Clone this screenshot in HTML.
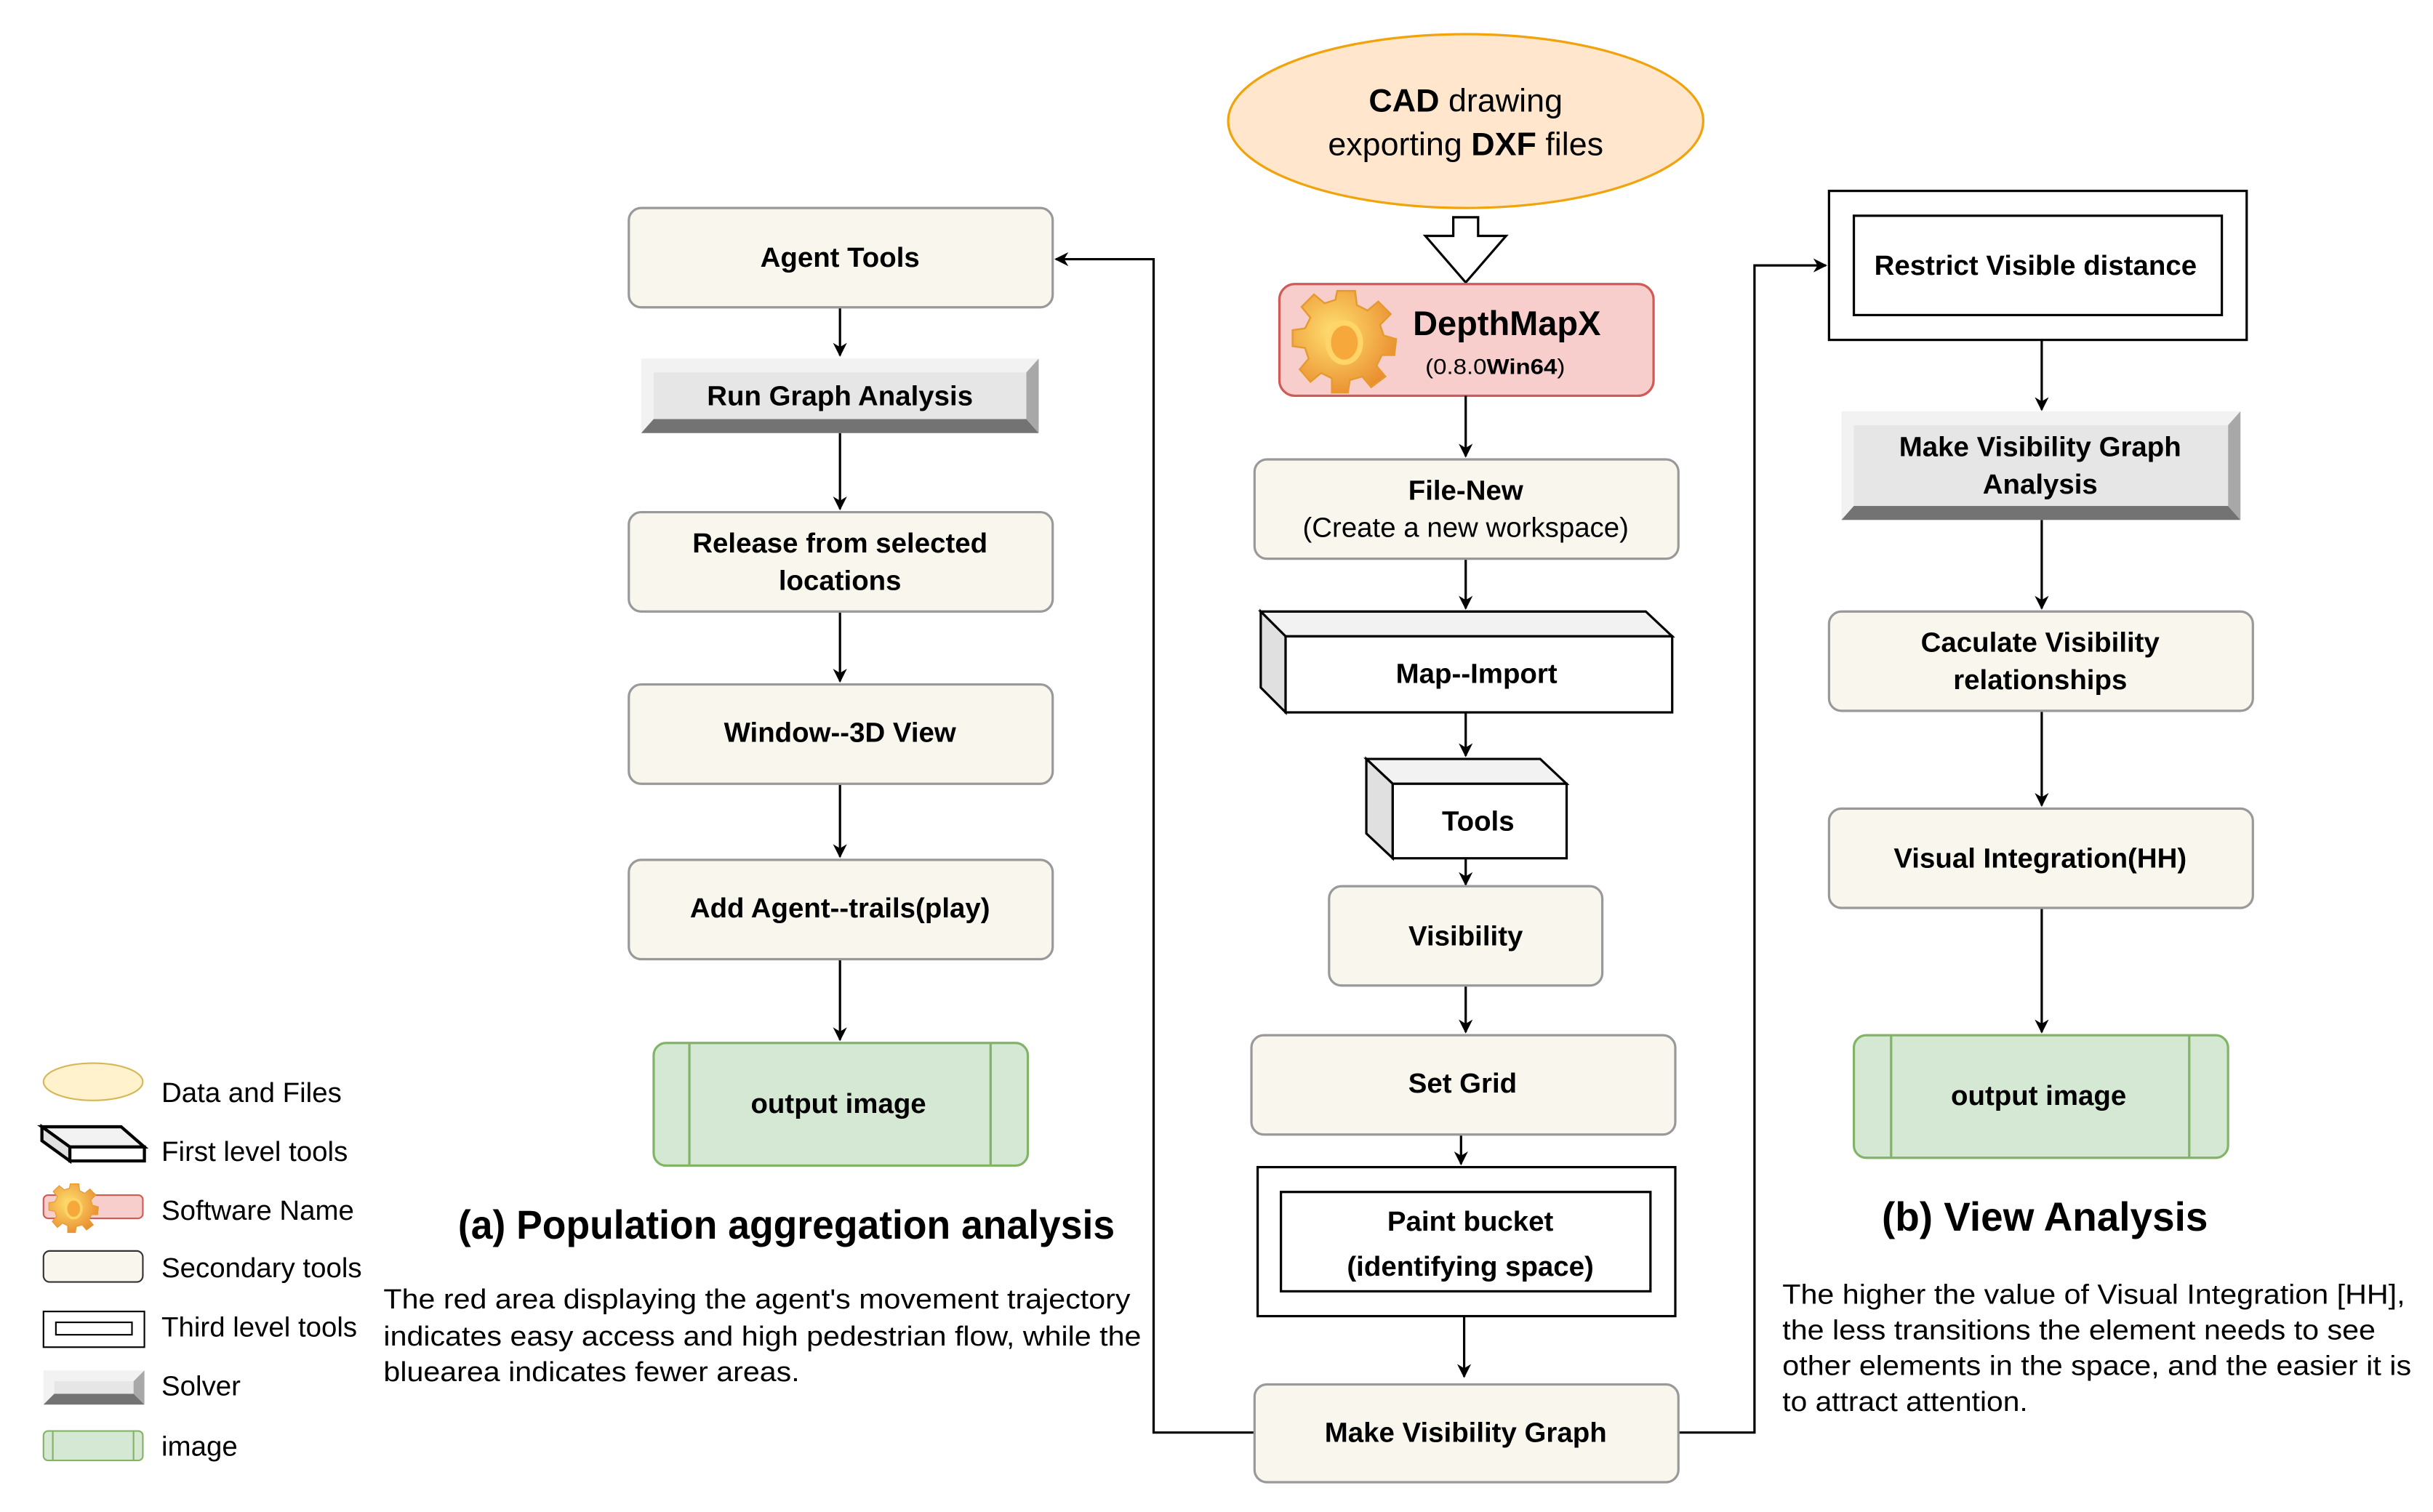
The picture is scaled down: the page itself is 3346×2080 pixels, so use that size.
<!DOCTYPE html>
<html><head><meta charset="utf-8"><style>
html,body{margin:0;padding:0;background:#fff;}
svg{display:block;}
text{font-family:"Liberation Sans",sans-serif;fill:#000;}
.b{font-weight:bold;font-size:18px;}
.n{font-size:18px;}
</style></head><body>
<svg width="3346" height="2080" viewBox="0 0 1567 974.2" preserveAspectRatio="none" xmlns="http://www.w3.org/2000/svg">
<defs>
<marker id="ar" viewBox="0 0 10 10" refX="9" refY="5" markerWidth="9" markerHeight="9" orient="auto" markerUnits="userSpaceOnUse">
<path d="M0,0 L10,5 L0,10 L3,5 z" fill="#000"/></marker>
<radialGradient id="gear" cx="0.4" cy="0.4" r="0.7"><stop offset="0" stop-color="#ffe070"/><stop offset="1" stop-color="#e8872a"/></radialGradient>
<g id="gearI">
<path d="M-5,-24 L5,-24 L6,-16 L12,-13 L18,-18 L25,-11 L19,-5 L21,1 L28,3 L27,12 L20,12 L17,18 L22,24 L14,30 L9,24 L2,26 L1,33 L-8,33 L-8,25 L-14,22 L-20,27 L-26,20 L-21,14 L-23,8 L-30,7 L-30,-2 L-23,-3 L-20,-9 L-25,-15 L-18,-22 L-12,-17 L-6,-19 Z" fill="url(#gear)" stroke="#e59a30" stroke-width="1"/>
<ellipse cx="-1" cy="5" rx="9" ry="11" fill="#f6a93a" stroke="#ffd56a" stroke-width="3"/>
</g>
</defs>

<ellipse cx="944" cy="78" rx="153" ry="56" fill="#ffe6cc" stroke="#f0a30a" stroke-width="1.5"/>
<text x="944" y="72" text-anchor="middle" font-size="21"><tspan font-weight="bold">CAD</tspan> drawing</text>
<text x="944" y="100" text-anchor="middle" font-size="21">exporting <tspan font-weight="bold">DXF</tspan> files</text>
<path d="M936,140 H952 V152 H970 L944,182 L918,152 H936 Z" fill="#fff" stroke="#000" stroke-width="1.5"/>

<rect x="824" y="183" width="241" height="72" rx="10" fill="#f8cecc" stroke="#d05a55" stroke-width="1.5"/>
<use href="#gearI" transform="translate(867,215) scale(1.15)"/>
<text x="910" y="216" font-size="22" font-weight="bold">DepthMapX</text>
<text x="918" y="241" font-size="14" textLength="90" lengthAdjust="spacingAndGlyphs">(0.8.0<tspan font-weight="bold">Win64</tspan>)</text>

<g stroke="#000" stroke-width="1.5" fill="none">
<line x1="944" y1="255" x2="944" y2="294" marker-end="url(#ar)"/>
<line x1="944" y1="360" x2="944" y2="392" marker-end="url(#ar)"/>
<line x1="944" y1="459" x2="944" y2="487" marker-end="url(#ar)"/>
<line x1="944" y1="553" x2="944" y2="570" marker-end="url(#ar)"/>
<line x1="944" y1="635" x2="944" y2="665" marker-end="url(#ar)"/>
<line x1="941" y1="731" x2="941" y2="750" marker-end="url(#ar)"/>
<line x1="943" y1="848" x2="943" y2="887" marker-end="url(#ar)"/>
<polyline points="808,923 743,923 743,167 680,167" marker-end="url(#ar)"/>
<polyline points="1081,923 1130,923 1130,171 1176,171" marker-end="url(#ar)"/>
<line x1="541" y1="198" x2="541" y2="229" marker-end="url(#ar)"/>
<line x1="541" y1="279" x2="541" y2="328" marker-end="url(#ar)"/>
<line x1="541" y1="394" x2="541" y2="439" marker-end="url(#ar)"/>
<line x1="541" y1="505" x2="541" y2="552" marker-end="url(#ar)"/>
<line x1="541" y1="618" x2="541" y2="670" marker-end="url(#ar)"/>
<line x1="1315" y1="219" x2="1315" y2="264" marker-end="url(#ar)"/>
<line x1="1315" y1="335" x2="1315" y2="392" marker-end="url(#ar)"/>
<line x1="1315" y1="458" x2="1315" y2="519" marker-end="url(#ar)"/>
<line x1="1315" y1="585" x2="1315" y2="665" marker-end="url(#ar)"/>
</g>

<g fill="#f9f7ed" stroke="#999" stroke-width="1.5">
<rect x="808" y="296" width="273" height="64" rx="8"/>
<rect x="856" y="571" width="176" height="64" rx="8"/>
<rect x="806" y="667" width="273" height="64" rx="8"/>
<rect x="808" y="892" width="273" height="63" rx="8"/>
<rect x="405" y="134" width="273" height="64" rx="8"/>
<rect x="405" y="330" width="273" height="64" rx="8"/>
<rect x="405" y="441" width="273" height="64" rx="8"/>
<rect x="405" y="554" width="273" height="64" rx="8"/>
<rect x="1178" y="394" width="273" height="64" rx="8"/>
<rect x="1178" y="521" width="273" height="64" rx="8"/>
</g>
<text x="944" y="322" text-anchor="middle" class="b">File-New</text>
<text x="944" y="346" text-anchor="middle" class="n">(Create a new workspace)</text>
<text x="944" y="609" text-anchor="middle" class="b">Visibility</text>
<text x="942" y="704" text-anchor="middle" class="b">Set Grid</text>
<text x="944" y="929" text-anchor="middle" class="b">Make Visibility Graph</text>
<text x="541" y="172" text-anchor="middle" class="b">Agent Tools</text>
<text x="541" y="356" text-anchor="middle" class="b">Release from selected</text>
<text x="541" y="380" text-anchor="middle" class="b">locations</text>
<text x="541" y="478" text-anchor="middle" class="b">Window--3D View</text>
<text x="541" y="591" text-anchor="middle" class="b">Add Agent--trails(play)</text>
<text x="1314" y="420" text-anchor="middle" class="b">Caculate Visibility</text>
<text x="1314" y="444" text-anchor="middle" class="b">relationships</text>
<text x="1314" y="559" text-anchor="middle" class="b">Visual Integration(HH)</text>

<g stroke="#000" stroke-width="1.5">
<path d="M812,394 H1060 L1077,410 H828 Z" fill="#f2f2f2"/>
<path d="M812,394 L828,410 V459 L812,443 Z" fill="#e0e0e0"/>
<rect x="828" y="410" width="249" height="49" fill="#fff"/>
<path d="M880,489 H992 L1009,505 H897 Z" fill="#f2f2f2"/>
<path d="M880,489 L897,505 V553 L880,537 Z" fill="#e0e0e0"/>
<rect x="897" y="505" width="112" height="48" fill="#fff"/>
</g>
<text x="951" y="440" text-anchor="middle" class="b">Map--Import</text>
<text x="952" y="535" text-anchor="middle" class="b">Tools</text>

<g fill="#fff" stroke="#000" stroke-width="1.5">
<rect x="810" y="752" width="269" height="96"/>
<rect x="825" y="768" width="238" height="64"/>
<rect x="1178" y="123" width="269" height="96"/>
<rect x="1194" y="139" width="237" height="64"/>
</g>
<text x="947" y="793" text-anchor="middle" class="b">Paint bucket</text>
<text x="947" y="822" text-anchor="middle" class="b">(identifying space)</text>
<text x="1311" y="177" text-anchor="middle" class="b">Restrict Visible distance</text>

<g>
<rect x="413" y="231" width="256" height="48" fill="#f2f2f2"/>
<path d="M413,279 L421,270 H661 L669,279 Z" fill="#737373"/>
<path d="M669,231 L661,240 V270 L669,279 Z" fill="#a8a8a8"/>
<rect x="421" y="240" width="240" height="30" fill="#e6e6e6"/>
</g>
<text x="541" y="261" text-anchor="middle" class="b">Run Graph Analysis</text>
<g>
<rect x="1186" y="265" width="257" height="70" fill="#f2f2f2"/>
<path d="M1186,335 L1194,326 H1435 L1443,335 Z" fill="#737373"/>
<path d="M1443,265 L1435,274 V326 L1443,335 Z" fill="#a8a8a8"/>
<rect x="1194" y="274" width="241" height="52" fill="#e6e6e6"/>
</g>
<text x="1314" y="294" text-anchor="middle" class="b">Make Visibility Graph</text>
<text x="1314" y="318" text-anchor="middle" class="b">Analysis</text>

<g fill="#d5e8d4" stroke="#82b366" stroke-width="1.5">
<rect x="421" y="672" width="241" height="79" rx="8"/>
<line x1="444" y1="672" x2="444" y2="751"/><line x1="638" y1="672" x2="638" y2="751"/>
<rect x="1194" y="667" width="241" height="79" rx="8"/>
<line x1="1218" y1="667" x2="1218" y2="746"/><line x1="1410" y1="667" x2="1410" y2="746"/>
</g>
<text x="540" y="717" text-anchor="middle" class="b">output image</text>
<text x="1313" y="712" text-anchor="middle" class="b">output image</text>

<text x="295" y="798" font-size="26" font-weight="bold" textLength="423" lengthAdjust="spacingAndGlyphs">(a) Population aggregation analysis</text>
<text x="1212" y="793" font-size="26" font-weight="bold" textLength="210" lengthAdjust="spacingAndGlyphs">(b) View Analysis</text>
<text x="247" y="843" class="n" textLength="481" lengthAdjust="spacingAndGlyphs">The red area displaying the agent's movement trajectory</text>
<text x="247" y="867" class="n" textLength="488" lengthAdjust="spacingAndGlyphs">indicates easy access and high pedestrian flow, while the</text>
<text x="247" y="890" class="n" textLength="268" lengthAdjust="spacingAndGlyphs">bluearea indicates fewer areas.</text>
<text x="1148" y="840" class="n" textLength="401" lengthAdjust="spacingAndGlyphs">The higher the value of Visual Integration [HH],</text>
<text x="1148" y="863" class="n" textLength="382" lengthAdjust="spacingAndGlyphs">the less transitions the element needs to see</text>
<text x="1148" y="886" class="n" textLength="405" lengthAdjust="spacingAndGlyphs">other elements in the space, and the easier it is</text>
<text x="1148" y="909" class="n" textLength="158" lengthAdjust="spacingAndGlyphs">to attract attention.</text>

<ellipse cx="60" cy="697" rx="32" ry="12" fill="#fff2cc" stroke="#d6b656" stroke-width="1"/>
<g stroke="#000" stroke-width="2">
<path d="M27,726 H78 L93,739 H45 Z" fill="#f2f2f2"/>
<path d="M27,726 L45,739 V748 L27,735 Z" fill="#e0e0e0"/>
<rect x="45" y="739" width="48" height="9" fill="#fff"/>
</g>
<rect x="28" y="770" width="64" height="15" rx="3" fill="#f8cecc" stroke="#d05a55"/>
<use href="#gearI" transform="translate(48,776) scale(0.55)"/>
<rect x="28" y="806" width="64" height="20" rx="4" fill="#f9f7ed" stroke="#333"/>
<rect x="28" y="845" width="65" height="23" fill="#fff" stroke="#000"/>
<rect x="36" y="852" width="49" height="8" fill="#fff" stroke="#000"/>
<rect x="28" y="883" width="65" height="22" fill="#f2f2f2"/>
<path d="M28,905 L35,898 H86 L93,905 Z" fill="#737373"/>
<path d="M93,883 L86,890 V898 L93,905 Z" fill="#a8a8a8"/>
<rect x="35" y="890" width="51" height="8" fill="#e6e6e6"/>
<rect x="28" y="922" width="64" height="19" rx="3" fill="#d5e8d4" stroke="#82b366"/>
<line x1="34" y1="922" x2="34" y2="941" stroke="#82b366"/><line x1="86" y1="922" x2="86" y2="941" stroke="#82b366"/>
<text x="104" y="710" class="n">Data and Files</text>
<text x="104" y="748" class="n">First level tools</text>
<text x="104" y="786" class="n">Software Name</text>
<text x="104" y="823" class="n">Secondary tools</text>
<text x="104" y="861" class="n">Third level tools</text>
<text x="104" y="899" class="n">Solver</text>
<text x="104" y="938" class="n">image</text>
</svg>
</body></html>
